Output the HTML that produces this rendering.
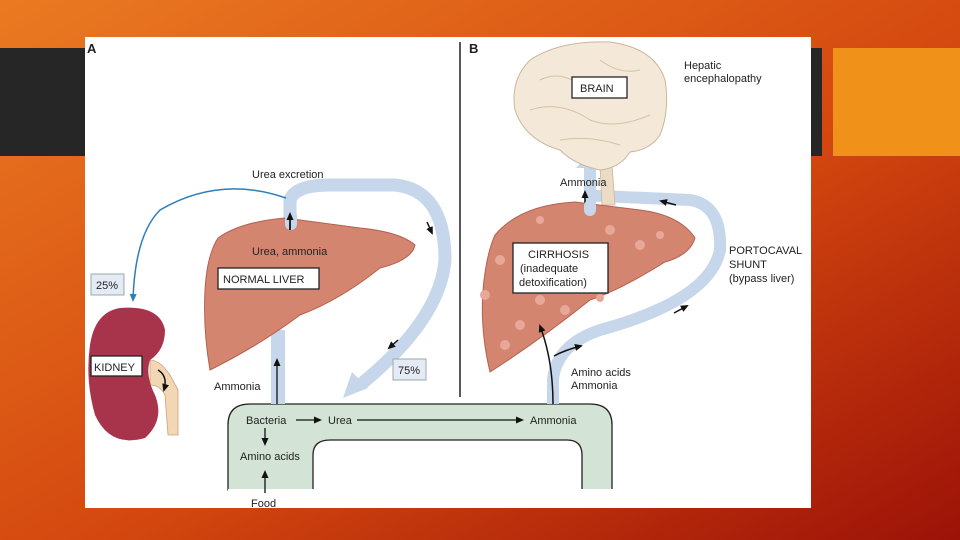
<!DOCTYPE html>
<html><head><meta charset="utf-8"><style>
html,body{margin:0;padding:0;width:960px;height:540px;overflow:hidden}
svg{display:block}
text{font-family:"Liberation Sans",sans-serif;fill:#222}
</style></head><body>
<svg width="960" height="540" viewBox="0 0 960 540" xmlns="http://www.w3.org/2000/svg">
<defs>
<linearGradient id="bg" x1="0" y1="0" x2="1" y2="1">
<stop offset="0" stop-color="#ea7a22"/><stop offset="0.55" stop-color="#d4480f"/><stop offset="1" stop-color="#9c1208"/>
</linearGradient>
<marker id="ah" markerUnits="userSpaceOnUse" markerWidth="8" markerHeight="8" refX="6" refY="4" orient="auto"><path d="M0,0.5 L8,4 L0,7.5 z" fill="#111"/></marker>
<marker id="ab" markerUnits="userSpaceOnUse" markerWidth="8" markerHeight="8" refX="6" refY="4" orient="auto"><path d="M0,0.5 L8,4 L0,7.5 z" fill="#2a7fb8"/></marker>
</defs>
<rect width="960" height="540" fill="url(#bg)"/>
<rect x="0" y="48" width="822" height="108" fill="#262626"/>
<rect x="833" y="48" width="127" height="108" fill="#f0921a"/>
<rect x="85" y="37" width="726" height="471" fill="#fff"/>
<text x="87" y="53" font-size="13" font-weight="bold">A</text>
<text x="469" y="53" font-size="13" font-weight="bold">B</text>
<line x1="460" y1="42" x2="460" y2="397" stroke="#222" stroke-width="1.5"/>

<!-- gut -->
<path d="M228,490 L228,425 Q228,404 250,404 L590,404 Q612,404 612,425 L612,490 L582,490 L582,455 Q582,440 567,440 L330,440 Q313,440 313,455 L313,490 Z" fill="#d3e4d6" stroke="#222" stroke-width="1.3"/>
<rect x="228" y="489" width="385" height="3" fill="#fff"/>

<!-- blue arrows A -->
<path d="M290,223 L290,200 Q295,185 330,185 L395,185 Q445,190 445,260 Q440,320 360,385" fill="none" stroke="#c6d6eb" stroke-width="13"/>
<path d="M343,398 L352,372 L368,388 Z" fill="#c6d6eb"/>
<rect x="271" y="330" width="14" height="74" fill="#c6d6eb"/>
<path d="M286,198 Q220,175 160,210 Q135,235 133,300" fill="none" stroke="#2a7fb8" stroke-width="1.5" marker-end="url(#ab)"/>

<!-- normal liver -->
<path d="M218,238 Q240,222 285,218 L360,228 Q400,232 415,245 Q412,260 380,268 Q340,300 300,315 Q260,345 210,370 Q203,330 205,290 Q207,255 218,238 Z" fill="#d4856f" stroke="#b56050" stroke-width="1"/>
<rect x="285" y="210" width="12" height="20" rx="6" fill="#c6d6eb"/>
<line x1="290" y1="230" x2="290" y2="214" stroke="#111" stroke-width="1.8" marker-end="url(#ah)"/>
<text x="252" y="255" font-size="11">Urea, ammonia</text>
<rect x="218" y="268" width="101" height="21" fill="#fff" stroke="#222" stroke-width="1.3"/>
<text x="223" y="283" font-size="11">NORMAL LIVER</text>
<text x="252" y="178" font-size="11">Urea excretion</text>
<line x1="427" y1="222" x2="432" y2="233" stroke="#111" stroke-width="1.5" marker-end="url(#ah)"/>
<line x1="398" y1="340" x2="389" y2="348" stroke="#111" stroke-width="1.5" marker-end="url(#ah)"/>
<rect x="91" y="274" width="33" height="21" fill="#e4ebf4" stroke="#9aa"/>
<text x="96" y="289" font-size="11">25%</text>
<rect x="393" y="359" width="33" height="21" fill="#e4ebf4" stroke="#9aa"/>
<text x="398" y="374" font-size="11">75%</text>
<line x1="277" y1="404" x2="277" y2="360" stroke="#111" stroke-width="1.3" marker-end="url(#ah)"/>
<text x="214" y="390" font-size="11">Ammonia</text>

<!-- kidney -->
<path d="M150,360 Q160,360 170,375 L178,390 L178,435 L168,435 L165,395 Q160,385 150,385 Z" fill="#f3d6b3" stroke="#c8a37c" stroke-width="0.8"/>
<path d="M120,308 Q160,305 165,330 Q165,350 150,360 Q145,375 155,395 Q165,420 145,438 Q110,448 95,415 Q85,380 90,345 Q95,312 120,308 Z" fill="#a8344b"/>
<rect x="91" y="356" width="51" height="20" fill="#fff" stroke="#222" stroke-width="1.3"/>
<text x="94" y="371" font-size="11">KIDNEY</text>
<path d="M158,370 Q168,376 164,390" fill="none" stroke="#111" stroke-width="1.5" marker-end="url(#ah)"/>

<!-- gut labels -->
<text x="246" y="424" font-size="11">Bacteria</text>
<line x1="296" y1="420" x2="320" y2="420" stroke="#111" stroke-width="1.3" marker-end="url(#ah)"/>
<text x="328" y="424" font-size="11">Urea</text>
<line x1="357" y1="420" x2="522" y2="420" stroke="#111" stroke-width="1.3" marker-end="url(#ah)"/>
<text x="530" y="424" font-size="11">Ammonia</text>
<line x1="265" y1="428" x2="265" y2="444" stroke="#111" stroke-width="1.3" marker-end="url(#ah)"/>
<text x="240" y="460" font-size="11">Amino acids</text>
<line x1="265" y1="493" x2="265" y2="472" stroke="#111" stroke-width="1.3" marker-end="url(#ah)"/>
<text x="251" y="507" font-size="11">Food</text>

<!-- B blue -->
<path d="M553,404 L553,380 Q556,345 600,330 Q710,300 720,250 Q722,205 690,200 L600,196 L590,196" fill="none" stroke="#c6d6eb" stroke-width="12"/>
<rect x="584" y="165" width="12" height="48" fill="#c6d6eb"/>
<path d="M576,168 L590,152 L604,168 Z" fill="#c6d6eb"/>

<!-- brain -->
<path d="M600,165 L612,165 L615,205 L602,205 Z" fill="#ecdcc5" stroke="#c9b79b" stroke-width="0.8"/>
<path d="M530,60 Q560,40 610,42 Q655,48 665,80 Q670,110 660,135 Q650,150 630,152 Q620,168 600,170 Q575,165 560,150 Q525,140 515,110 Q510,80 530,60 Z" fill="#f4e9d8" stroke="#c9b79b" stroke-width="1"/>
<path d="M540,80 Q560,70 580,85 M600,60 Q620,75 640,70 M530,110 Q560,100 590,120 Q615,130 650,115 M560,140 Q590,135 620,145" fill="none" stroke="#d4c2a6" stroke-width="1"/>
<rect x="572" y="77" width="55" height="21" fill="#fff" stroke="#222" stroke-width="1.3"/>
<text x="580" y="92" font-size="11">BRAIN</text>
<text x="684" y="69" font-size="11">Hepatic</text>
<text x="684" y="82" font-size="11">encephalopathy</text>
<text x="560" y="186" font-size="11">Ammonia</text>
<line x1="585" y1="210" x2="585" y2="192" stroke="#111" stroke-width="1.5" marker-end="url(#ah)"/>
<line x1="676" y1="205" x2="661" y2="201" stroke="#111" stroke-width="1.5" marker-end="url(#ah)"/>

<!-- cirrhosis liver -->
<path d="M495,235 Q520,205 575,202 L640,210 Q680,215 695,238 Q690,255 665,262 Q620,290 590,300 Q540,340 490,372 Q480,330 483,290 Q486,255 495,235 Z" fill="#d4856f" stroke="#b56050" stroke-width="1"/>
<g fill="#e8a899">
<circle cx="485" cy="295" r="5"/><circle cx="500" cy="260" r="5"/><circle cx="520" cy="325" r="5"/><circle cx="540" cy="300" r="5"/><circle cx="528" cy="280" r="4"/><circle cx="565" cy="310" r="5"/><circle cx="610" cy="230" r="5"/><circle cx="640" cy="245" r="5"/><circle cx="660" cy="235" r="4"/><circle cx="540" cy="220" r="4"/><circle cx="505" cy="345" r="5"/><circle cx="600" cy="298" r="4"/>
</g>
<rect x="584" y="200" width="12" height="16" rx="6" fill="#c6d6eb"/>
<rect x="513" y="243" width="95" height="50" fill="#fff" stroke="#222" stroke-width="1.3"/>
<text x="528" y="258" font-size="11">CIRRHOSIS</text>
<text x="520" y="272" font-size="11">(inadequate</text>
<text x="519" y="286" font-size="11">detoxification)</text>
<text x="729" y="254" font-size="11">PORTOCAVAL</text>
<text x="729" y="268" font-size="11">SHUNT</text>
<text x="729" y="282" font-size="11">(bypass liver)</text>
<path d="M553,404 Q553,360 540,326" fill="none" stroke="#111" stroke-width="1.5" marker-end="url(#ah)"/>
<path d="M554,356 Q565,350 581,346" fill="none" stroke="#111" stroke-width="1.5" marker-end="url(#ah)"/>
<line x1="674" y1="313" x2="687" y2="306" stroke="#111" stroke-width="1.5" marker-end="url(#ah)"/>
<text x="571" y="376" font-size="11">Amino acids</text>
<text x="571" y="389" font-size="11">Ammonia</text>
</svg>
</body></html>
